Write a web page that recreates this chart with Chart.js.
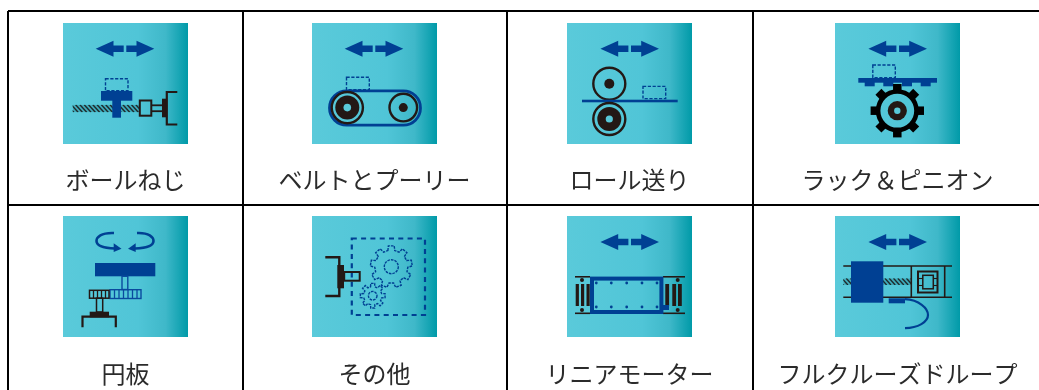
<!DOCTYPE html>
<html lang="ja">
<head>
<meta charset="utf-8">
<title>駆動機構</title>
<script src="https://cdn.jsdelivr.net/npm/chart.js@4"></script>
<style>
  html, body { margin: 0; padding: 0; background: #fff; }
  canvas { display: block; }
</style>
</head>
<body>
<canvas id="chart1" width="1039" height="390"></canvas>
<script>
// Table contents
const topLabels = ['ボールねじ', 'ベルトとプーリー', 'ロール送り', 'ラック＆ピニオン'];
const bottomLabels = ['円板', 'その他', 'リニアモーター', 'フルクルーズドループ'];
const topIcons = ['ballScrew', 'belt', 'roll', 'rack'];
const bottomIcons = ['disc', 'other', 'linear', 'fullClosed'];

// Axis values, one axis unit is one pixel of the table
const columnEdges = [8, 243, 507, 753];
const rowEdges = [11, 205];
const columnCenters = [125.5, 374.5, 629.5, 897.5];
const iconRows = [83.5, 276.5];
const labelRows = [180, 374];

const BLUE = '#004093';
const INK = '#231815';

function makeTile(draw) {
    const c = document.createElement('canvas');
    c.width = 125;
    c.height = 121;
    const g = c.getContext('2d');
    const grad = g.createLinearGradient(0, 0, 125, 0);
    grad.addColorStop(0, '#5acada');
    grad.addColorStop(0.6, '#50c5d7');
    grad.addColorStop(0.82, '#3fb8c9');
    grad.addColorStop(1, '#009aa8');
    g.fillStyle = grad;
    g.fillRect(0, 0, 125, 121);
    draw(g);
    return c;
}

function box(g, x0, y0, x1, y1, color) {
    g.fillStyle = color;
    g.fillRect(x0, y0, x1 - x0, y1 - y0);
}
function frame(g, x0, y0, x1, y1, color, lw) {
    g.strokeStyle = color;
    g.lineWidth = lw;
    g.strokeRect(x0, y0, x1 - x0, y1 - y0);
}
function dashed(g, x0, y0, x1, y1, lw, dash) {
    g.save();
    g.setLineDash(dash || [3.2, 1.6]);
    frame(g, x0, y0, x1, y1, BLUE, lw || 1.4);
    g.restore();
}
function seg(g, pts, color, lw) {
    g.strokeStyle = color;
    g.lineWidth = lw;
    g.beginPath();
    pts.forEach((p, i) => i ? g.lineTo(p[0], p[1]) : g.moveTo(p[0], p[1]));
    g.stroke();
}
function disc(g, x, y, r, color) {
    g.fillStyle = color;
    g.beginPath();
    g.arc(x, y, r, 0, Math.PI * 2);
    g.fill();
}
function ring(g, x, y, r, color, lw) {
    g.strokeStyle = color;
    g.lineWidth = lw;
    g.beginPath();
    g.arc(x, y, r, 0, Math.PI * 2);
    g.stroke();
}
function poly(g, pts, color) {
    g.fillStyle = color;
    g.beginPath();
    pts.forEach((p, i) => i ? g.lineTo(p[0], p[1]) : g.moveTo(p[0], p[1]));
    g.closePath();
    g.fill();
}
function arrows(g, cx, y) {
    [-1, 1].forEach(s => {
        poly(g, [
            [cx + s * 29.3, y], [cx + s * 11.5, y - 8], [cx + s * 11.5, y - 3.2],
            [cx + s * 1.3, y - 3.2], [cx + s * 1.3, y + 3.2], [cx + s * 11.5, y + 3.2], [cx + s * 11.5, y + 8]
        ], BLUE);
    });
}
function screw(g, x0, x1, y0, y1) {
    g.save();
    g.beginPath();
    g.rect(x0, y0, x1 - x0, y1 - y0);
    g.clip();
    box(g, x0, y0, x1, y1, 'rgba(0,90,105,0.25)');
    g.strokeStyle = '#1f2a2c';
    g.lineWidth = 1.4;
    for (let x = x0 - 10; x < x1 + 10; x += 4.3) {
        g.beginPath();
        g.moveTo(x, y0);
        g.lineTo(x + (y1 - y0) * 0.9, y1);
        g.stroke();
    }
    g.restore();
}
function bracketRight(g, x, yTop, yBottom, armEnd) {
    seg(g, [[armEnd, yTop], [x, yTop], [x, yBottom], [armEnd, yBottom]], INK, 2.2);
}
function cog(g, cx, cy, rBody, rTip, teeth, toothWidth, color) {
    g.fillStyle = color;
    for (let i = 0; i < teeth; i++) {
        g.save();
        g.translate(cx, cy);
        g.rotate(i * Math.PI * 2 / teeth);
        g.fillRect(-toothWidth / 2, -rTip, toothWidth, rTip - rBody + 2);
        g.restore();
    }
}
function cogOutline(g, cx, cy, rBody, rTip, teeth, hole) {
    g.save();
    g.setLineDash([2.6, 1]);
    g.strokeStyle = BLUE;
    g.lineWidth = 1.4;
    g.beginPath();
    const step = Math.PI * 2 / teeth;
    for (let i = 0; i < teeth; i++) {
        const a = i * step - Math.PI / 2;
        const w = step * 0.2;
        const pts = [[a - 1.5 * w, rBody], [a - w, rTip], [a + w, rTip], [a + 1.5 * w, rBody]];
        pts.forEach((p, k) => {
            const x = cx + Math.cos(p[0]) * p[1];
            const y = cy + Math.sin(p[0]) * p[1];
            (i === 0 && k === 0) ? g.moveTo(x, y) : g.lineTo(x, y);
        });
    }
    g.closePath();
    g.stroke();
    g.beginPath();
    g.arc(cx, cy, hole, 0, Math.PI * 2);
    g.stroke();
    g.restore();
}

const iconDrawers = {
    ballScrew(g) {
        arrows(g, 62, 25.7);
        dashed(g, 42.5, 55.8, 65, 67.8);
        screw(g, 9.7, 76, 81.7, 89.3);
        box(g, 38, 68, 69.3, 77.7, BLUE);
        box(g, 49.3, 77, 58, 94.7, BLUE);
        seg(g, [[88.7, 82.3], [100, 82.3]], INK, 1.8);
        seg(g, [[88.7, 88.2], [100, 88.2]], INK, 1.8);
        frame(g, 76.8, 77.5, 88.3, 92.7, INK, 2);
        box(g, 99, 75.7, 104, 94.3, INK);
        bracketRight(g, 103.8, 69, 101.5, 114.3);
    },
    belt(g) {
        arrows(g, 62, 25.7);
        dashed(g, 34.5, 54.3, 57.3, 66.7);
        g.strokeStyle = BLUE;
        g.lineWidth = 2.8;
        g.beginPath();
        g.roundRect(17.5, 67.8, 91, 34.4, 17.2);
        g.stroke();
        ring(g, 35.3, 84.6, 15.6, INK, 2.4);
        disc(g, 35.3, 84.6, 12, INK);
        disc(g, 35.3, 84.6, 3.8, '#5acada');
        ring(g, 91.3, 84.6, 13.8, INK, 2.4);
        disc(g, 91.3, 84.6, 4.5, INK);
    },
    roll(g) {
        arrows(g, 62.7, 25.7);
        ring(g, 42.3, 60.7, 16, INK, 2.4);
        disc(g, 42.3, 60.7, 5, INK);
        box(g, 15, 76.7, 110.7, 79.3, BLUE);
        dashed(g, 76, 63.4, 98.7, 75.6);
        ring(g, 42.3, 96, 16, INK, 2.4);
        disc(g, 42.3, 96, 12, INK);
        disc(g, 42.3, 96, 3.6, '#58c9d9');
    },
    rack(g) {
        arrows(g, 62.7, 25.7);
        dashed(g, 37.8, 42, 60.3, 54.7);
        box(g, 23.3, 55, 102, 59.7, BLUE);
        [29.7, 48.3, 67, 85.7].forEach(x => box(g, x, 59, x + 10, 63.3, BLUE));
        cog(g, 62.3, 87.7, 20, 26.7, 8, 8.5, '#000');
        ring(g, 62.3, 87.7, 19.2, '#000', 4.6);
        disc(g, 62.3, 87.7, 9.6, INK);
        disc(g, 62.3, 87.7, 3.2, '#58c9d9');
    },
    disc(g) {
        g.strokeStyle = BLUE;
        g.lineWidth = 2.6;
        g.beginPath();
        g.moveTo(51, 17);
        g.bezierCurveTo(38, 16.5, 33.5, 21, 33.5, 25);
        g.bezierCurveTo(33.5, 29.5, 41, 32, 52, 32.5);
        g.stroke();
        g.beginPath();
        g.moveTo(74, 17);
        g.bezierCurveTo(86, 16.5, 90.5, 21, 90.5, 25);
        g.bezierCurveTo(90.5, 29.5, 83, 32, 72, 32.5);
        g.stroke();
        poly(g, [[50.7, 27.3], [58.5, 32.8], [50.7, 36]], BLUE);
        poly(g, [[72.7, 27.3], [65, 32.8], [72.7, 36]], BLUE);
        box(g, 32, 47, 92.3, 60.3, BLUE);
        frame(g, 59, 60.3, 64.8, 73.5, '#0a4a9e', 1.4);
        frame(g, 47, 73.7, 78, 82.5, '#0a4a9e', 1.4);
        [51.5, 56, 60.5, 65, 69.5, 74].forEach(x => seg(g, [[x, 73.7], [x, 82.5]], '#0a4a9e', 1.3));
        frame(g, 26.5, 74.3, 46, 82.2, INK, 1.5);
        [30.5, 34.5, 38.5, 42.5].forEach(x => seg(g, [[x, 74.3], [x, 82.2]], INK, 1.3));
        frame(g, 33.5, 82.2, 39.7, 96, INK, 1.5);
        box(g, 26.7, 95.7, 46, 101.3, INK);
        seg(g, [[19.5, 111.3], [19.5, 100.7], [52.8, 100.7], [52.8, 111.3]], INK, 2.2);
    },
    other(g) {
        dashed(g, 39.8, 22.5, 113, 99, 2.2, [5, 4.3]);
        cogOutline(g, 79.3, 50.7, 16.5, 21, 9, 7);
        cogOutline(g, 60.7, 79.7, 9.2, 12.5, 8, 4.3);
        seg(g, [[13.3, 41.3], [27.3, 41.3], [27.3, 80], [13.3, 80]], INK, 2.4);
        box(g, 25.3, 49, 32, 72.3, INK);
        frame(g, 32.2, 56, 47.7, 64.7, INK, 2);
    },
    linear(g) {
        arrows(g, 62.7, 26);
        seg(g, [[8, 60.8], [23, 60.8]], INK, 1.6);
        seg(g, [[8, 97.3], [23, 97.3]], INK, 1.6);
        seg(g, [[96, 60.8], [118, 60.8]], INK, 1.6);
        seg(g, [[96, 97.3], [118, 97.3]], INK, 1.6);
        [8.7, 14, 19.5].forEach(x => box(g, x, 68, x + 3.2, 90, INK));
        [98.3, 105.3, 111].forEach(x => box(g, x, 68, x + 3.8, 90, INK));
        [[15, 64], [15, 94], [110.7, 64], [110.7, 94]].forEach(p => disc(g, p[0], p[1], 2, INK));
        frame(g, 25, 62.6, 94.4, 96, BLUE, 4);
        box(g, 96, 89, 102, 94, BLUE);
        [29.3, 44.3, 59.7, 75, 90].forEach(x => {
            disc(g, x, 67, 1.4, BLUE);
            disc(g, x, 91, 1.4, BLUE);
        });
    },
    fullClosed(g) {
        arrows(g, 62.7, 26);
        seg(g, [[8.3, 50], [117, 50]], INK, 1.6);
        seg(g, [[8.3, 81.3], [117, 81.3]], INK, 1.6);
        screw(g, 8.3, 76, 62.3, 69);
        seg(g, [[76.3, 50], [76.3, 81.3]], INK, 1.6);
        seg(g, [[109.7, 50], [109.7, 81.3]], INK, 1.6);
        frame(g, 83, 55.5, 102.5, 76.5, INK, 2);
        frame(g, 87.8, 59.3, 98.3, 72.8, INK, 1.5);
        seg(g, [[83, 62.5], [87.8, 62.5]], INK, 1.1);
        seg(g, [[83, 69.5], [87.8, 69.5]], INK, 1.1);
        seg(g, [[98.3, 62.5], [102.5, 62.5]], INK, 1.1);
        seg(g, [[98.3, 69.5], [102.5, 69.5]], INK, 1.1);
        box(g, 16, 45.3, 48.3, 86.7, BLUE);
        box(g, 53.7, 82.3, 70, 87.3, BLUE);
        g.strokeStyle = BLUE;
        g.lineWidth = 2.2;
        g.beginPath();
        g.moveTo(70, 83.2);
        g.bezierCurveTo(84, 84, 93, 92, 93, 99);
        g.bezierCurveTo(93, 106, 83, 112, 70, 112.2);
        g.stroke();
    }
};

const tableText = {
    id: 'tableText',
    afterDatasetsDraw(chart) {
        const ctx = chart.ctx;
        const x = chart.scales.x;
        const y = chart.scales.y;
        ctx.save();
        ctx.font = '24px "Noto Sans CJK JP"';
        ctx.fillStyle = '#2b2b2b';
        ctx.textAlign = 'center';
        ctx.textBaseline = 'middle';
        [topLabels, bottomLabels].forEach((labels, r) => {
            labels.forEach((text, i) => {
                ctx.fillText(text, x.getPixelForValue(columnCenters[i]), y.getPixelForValue(labelRows[r]));
            });
        });
        ctx.restore();
    }
};

const rowData = row => columnCenters.map(v => ({ x: v, y: iconRows[row] }));
const rowIcons = names => names.map(n => makeTile(iconDrawers[n]));

const ctx = document.getElementById('chart1').getContext('2d');
const myChart = new Chart(ctx, {
    type: 'scatter',
    data: {
        datasets: [
            { label: '上段', data: rowData(0), pointStyle: rowIcons(topIcons) },
            { label: '下段', data: rowData(1), pointStyle: rowIcons(bottomIcons) }
        ]
    },
    options: {
        responsive: false,
        animation: false,
        events: [],
        layout: { autoPadding: false, padding: { left: 8, top: 11, right: 0, bottom: 0 } },
        plugins: { legend: { display: false }, tooltip: { enabled: false } },
        scales: {
            x: {
                type: 'linear',
                min: 8,
                max: 1039,
                border: { display: false },
                grid: { color: '#000', lineWidth: 2, drawTicks: false },
                ticks: { display: false, autoSkip: false },
                afterBuildTicks: axis => { axis.ticks = columnEdges.map(value => ({ value })); }
            },
            y: {
                type: 'linear',
                reverse: true,
                min: 11,
                max: 390,
                border: { display: false },
                grid: { color: '#000', lineWidth: 2, drawTicks: false },
                ticks: { display: false, autoSkip: false },
                afterBuildTicks: axis => { axis.ticks = rowEdges.map(value => ({ value })); }
            }
        }
    },
    plugins: [tableText]
});
</script>
</body>
</html>
